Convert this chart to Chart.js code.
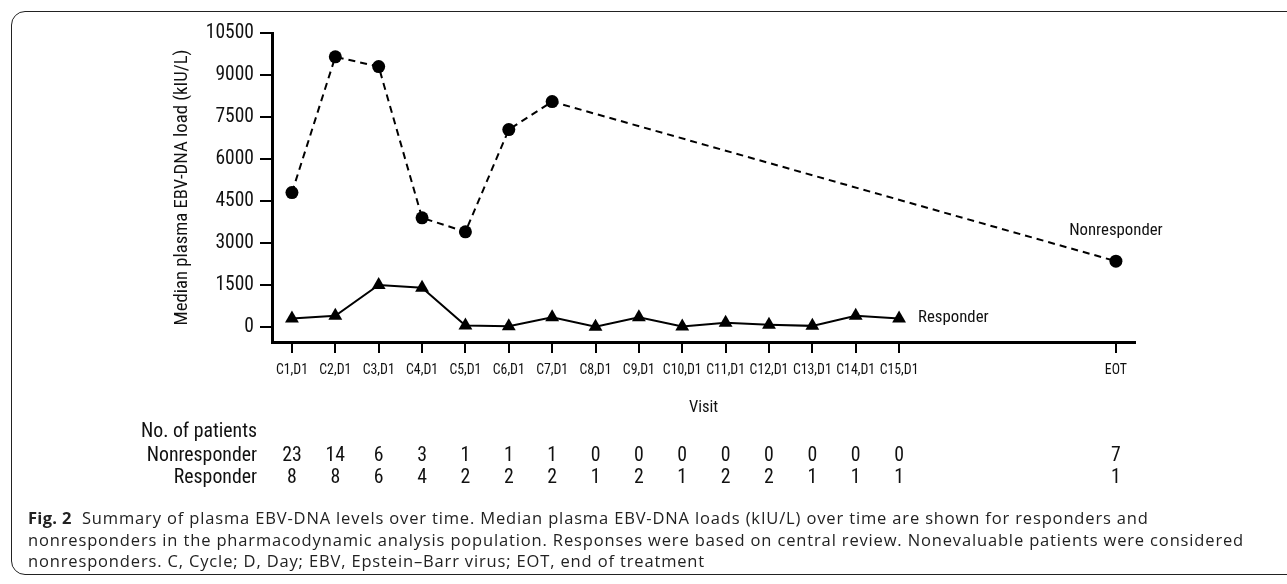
<!DOCTYPE html>
<html>
<head>
<meta charset="utf-8">
<script src="https://cdn.jsdelivr.net/npm/chart.js@4.4.1/dist/chart.umd.min.js"></script>
<style>
  html, body { margin: 0; padding: 0; background: #fff; }
  body { width: 1287px; height: 584px; position: relative; overflow: hidden; }
  #frame {
    position: absolute; left: 11px; top: 11px; width: 1320px; height: 564px;
    border: 1px solid #222; border-radius: 14px; box-sizing: border-box;
  }
  #wrap { position: absolute; left: 0; top: 0; width: 1287px; height: 584px; }
  #caption {
    position: absolute; left: 28px; top: 507px;
    font-family: "Open Sans", sans-serif; font-size: 16.5px; line-height: 21.5px;
    letter-spacing: 0.85px; color: #222; white-space: nowrap;
  }
  #caption b { font-weight: 700; letter-spacing: 0.3px; }
</style>
</head>
<body>
<div id="frame"></div>
<div id="wrap"><canvas id="ebvChart" width="1287" height="584"></canvas></div>
<div id="caption">
  <b>Fig. 2</b>&nbsp; Summary of plasma EBV-DNA levels over time. Median plasma EBV-DNA loads (kIU/L) over time are shown for responders and<br>
  nonresponders in the pharmacodynamic analysis population. Responses were based on central review. Nonevaluable patients were considered<br>
  nonresponders. C, Cycle; D, Day; EBV, Epstein–Barr virus; EOT, end of treatment
</div>
<script>
// 访视（x 轴类别）
const visitLabels = ['C1,D1', 'C2,D1', 'C3,D1', 'C4,D1', 'C5,D1', 'C6,D1', 'C7,D1', 'C8,D1',
    'C9,D1', 'C10,D1', 'C11,D1', 'C12,D1', 'C13,D1', 'C14,D1', 'C15,D1', 'EOT'];
const visitPos = [1, 2, 3, 4, 5, 6, 7, 8, 9, 10, 11, 12, 13, 14, 15, 20];

// 中位 EBV-DNA 载量 (kIU/L)
const nonresponderLoad = [4800, 9650, 9300, 3900, 3400, 7050, 8050, null, null, null, null, null, null, null, null, 2350];
const responderLoad = [300, 400, 1500, 1400, 50, 30, 350, 10, 350, 20, 150, 80, 40, 400, 300, null];

// 患者数
const nonresponderN = [23, 14, 6, 3, 1, 1, 1, 0, 0, 0, 0, 0, 0, 0, 0, 7];
const responderN = [8, 8, 6, 4, 2, 2, 2, 1, 2, 1, 2, 2, 1, 1, 1, 1];

const yTicks = [0, 1500, 3000, 4500, 6000, 7500, 9000, 10500];

const FONT = "'Liberation Sans Narrow', 'Roboto Condensed', Roboto, sans-serif";

function toPoints(values) {
    return visitPos.map((x, i) => ({ x: x, y: values[i] }));
}

// 系列名称标签，挂在最后一个数据点旁边
const seriesLabelPlugin = {
    id: 'seriesLabels',
    afterDatasetsDraw(chart) {
        const ctx = chart.ctx;
        ctx.save();
        ctx.font = '16.8px ' + FONT;
        ctx.fillStyle = '#111';
        ctx.textBaseline = 'middle';
        chart.data.datasets.forEach((ds, i) => {
            const pts = chart.getDatasetMeta(i).data.filter((p, j) => ds.data[j].y !== null);
            const last = pts[pts.length - 1];
            if (!last) return;
            if (ds.labelSide === 'above') {
                ctx.textAlign = 'center';
                ctx.fillText(ds.label, last.x, last.y - 30);
            } else {
                ctx.textAlign = 'left';
                ctx.fillText(ds.label, last.x + 19, last.y - 1);
            }
        });
        ctx.restore();
    }
};

// 底部患者人数表
const patientTablePlugin = {
    id: 'patientTable',
    afterDraw(chart) {
        const ctx = chart.ctx;
        const xScale = chart.scales.x;
        ctx.save();
        ctx.font = '19.8px ' + FONT;
        ctx.fillStyle = '#111';
        ctx.textBaseline = 'middle';
        ctx.textAlign = 'right';
        ctx.fillText('No. of patients', 257, 432);
        ctx.fillText('Nonresponder', 257, 456);
        ctx.fillText('Responder', 257, 478);
        ctx.textAlign = 'center';
        visitPos.forEach((v, i) => {
            const px = xScale.getPixelForValue(v);
            ctx.fillText(String(nonresponderN[i]), px, 456);
            ctx.fillText(String(responderN[i]), px, 478);
        });
        ctx.restore();
    }
};

const ctx = document.getElementById('ebvChart');
new Chart(ctx, {
    type: 'line',
    data: {
        datasets: [{
            label: 'Nonresponder',
            labelSide: 'above',
            data: toPoints(nonresponderLoad),
            borderColor: '#000',
            backgroundColor: '#000',
            borderWidth: 2,
            borderDash: [7, 5],
            pointStyle: 'circle',
            pointRadius: 6.5,
            pointBorderWidth: 0,
            spanGaps: true,
            tension: 0
        }, {
            label: 'Responder',
            labelSide: 'right',
            data: toPoints(responderLoad),
            borderColor: '#000',
            backgroundColor: '#000',
            borderWidth: 2,
            pointStyle: 'triangle',
            pointRadius: 8,
            pointBorderWidth: 0,
            spanGaps: false,
            tension: 0
        }]
    },
    options: {
        responsive: false,
        animation: false,
        events: [],
        layout: {
            padding: { left: 160, top: 33, right: 152, bottom: 166 }
        },
        plugins: {
            legend: { display: false },
            tooltip: { enabled: false }
        },
        scales: {
            x: {
                type: 'linear',
                min: 0.54,
                max: 20.44,
                afterBuildTicks: scale => {
                    scale.ticks = visitPos.map(v => ({ value: v }));
                },
                afterFit: scale => { scale.height = 76; },
                border: { display: true, color: '#000', width: 3 },
                grid: {
                    drawOnChartArea: false,
                    drawTicks: true,
                    tickLength: 11,
                    color: '#000',
                    lineWidth: 2
                },
                ticks: {
                    autoSkip: false,
                    maxRotation: 0,
                    padding: 9,
                    color: '#111',
                    font: { family: FONT, size: 13.8 },
                    callback: value => visitLabels[visitPos.indexOf(value)] || ''
                },
                title: {
                    display: true,
                    text: 'Visit',
                    color: '#111',
                    font: { family: FONT, size: 16.5 },
                    padding: { top: 0, bottom: 0 }
                }
            },
            y: {
                min: -536,
                max: 10500,
                afterBuildTicks: scale => {
                    scale.ticks = yTicks.map(v => ({ value: v }));
                },
                afterFit: scale => { scale.width = 112; },
                border: { display: true, color: '#000', width: 3 },
                grid: {
                    drawOnChartArea: false,
                    drawTicks: true,
                    tickLength: 12,
                    color: '#000',
                    lineWidth: 2
                },
                ticks: {
                    padding: 6,
                    color: '#111',
                    font: { family: FONT, size: 19.5 },
                    callback: value => String(value)
                },
                title: {
                    display: true,
                    text: 'Median plasma EBV-DNA load (kIU/L)',
                    color: '#111',
                    font: { family: FONT, size: 18.7 },
                    padding: { top: 11, bottom: 0 }
                }
            }
        }
    },
    plugins: [seriesLabelPlugin, patientTablePlugin]
});
</script>
</body>
</html>
